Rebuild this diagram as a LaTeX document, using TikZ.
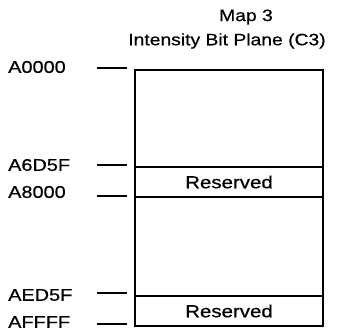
\documentclass[tikz,border=0pt]{standalone}
\usepackage{fontspec}
\setmainfont[FakeStretch=1.17, FakeBold=0.6]{Liberation Sans}
\usetikzlibrary{positioning}
\tikzset{
  seg/.style={draw, line width=1.5pt, minimum width=188pt, inner sep=0pt, outer sep=0pt, font=\fontsize{17.5}{20}\selectfont},
  addr/.style={font=\fontsize{17}{20}\selectfont, anchor=west, inner sep=0pt},
  ttl/.style={font=\fontsize{16.5}{19}\selectfont, inner sep=0pt},
  tck/.style={line width=1.2pt}
}
\begin{document}
\begin{tikzpicture}[x=1pt, y=-1pt]
\useasboundingbox (0,0) rectangle (358,330);
% title
\node[ttl] (t1) at (246,17) {Map 3};
\node[ttl] (t2) at (227,41) {Intensity Bit Plane (C3)};
% the map
\node[seg, minimum height=97pt, anchor=north west] (m0) at (135,70) {};
\node[seg, minimum height=30pt, below=0pt of m0] (r1) {Reserved};
\node[seg, minimum height=99pt, below=0pt of r1] (m1) {};
\node[seg, minimum height=30pt, below=0pt of m1] (r2) {Reserved};
% addresses
\node[addr] (a0) at (8,67) {A0000};
\node[addr] (a1) at (8,165) {A6D5F};
\node[addr] (a2) at (8,192) {A8000};
\node[addr] (a3) at (8,295) {AED5F};
\node[addr] (a4) at (8,322) {AFFFF};
\draw[tck] ([xshift=-38pt,yshift=2pt]m0.north west) -- ([xshift=-8pt,yshift=2pt]m0.north west);
\draw[tck] ([xshift=-38pt,yshift=2pt]r1.north west) -- ([xshift=-8pt,yshift=2pt]r1.north west);
\draw[tck] ([xshift=-38pt,yshift=1pt]m1.north west) -- ([xshift=-8pt,yshift=1pt]m1.north west);
\draw[tck] ([xshift=-38pt,yshift=3pt]r2.north west) -- ([xshift=-8pt,yshift=3pt]r2.north west);
\draw[tck] ([xshift=-38pt,yshift=2pt]r2.south west) -- ([xshift=-8pt,yshift=2pt]r2.south west);
\end{tikzpicture}
\end{document}
